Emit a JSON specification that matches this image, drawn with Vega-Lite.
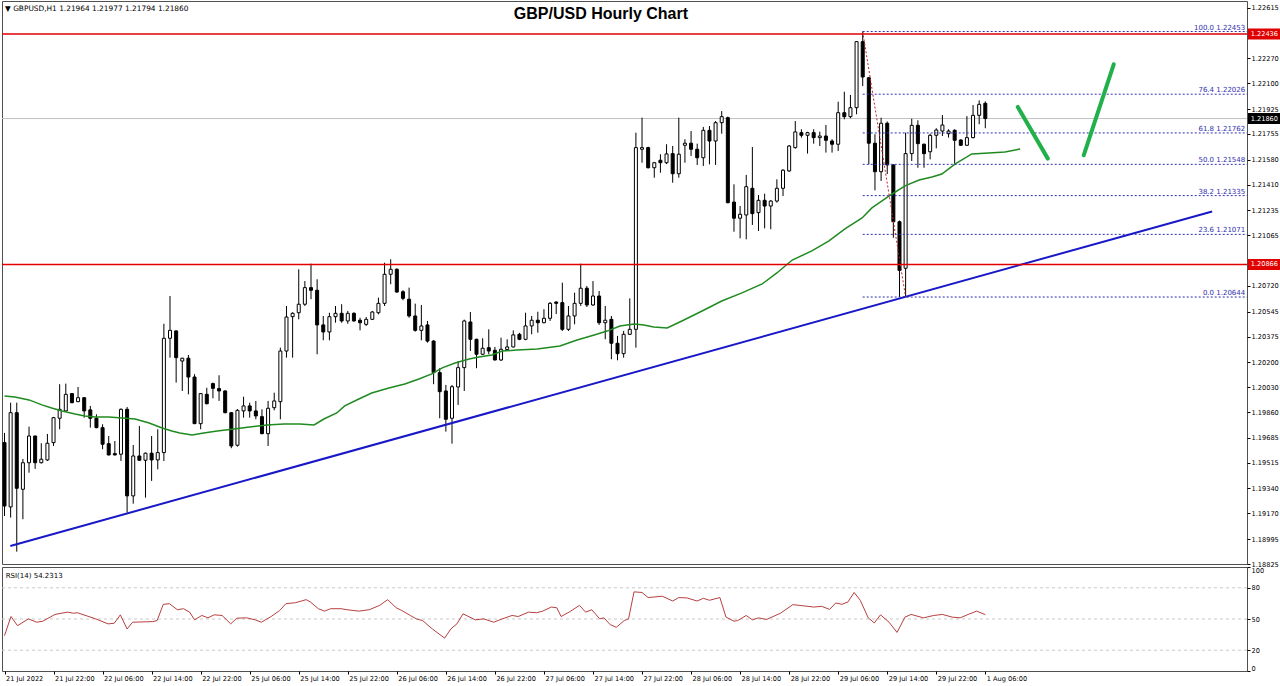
{
"$schema": "https://vega.github.io/schema/vega-lite/v6.json",
"padding": 0,
"spacing": 3,
"bounds": "flush",
"background": "white",
"config": {"view": {"stroke": "#505050", "strokeWidth": 1}, "axis": {"labelFont": "DejaVu Sans", "labelColor": "black", "tickColor": "black", "labelFontSize": 6.6, "labelOverlap": false, "labelSeparation": 0}, "scale": {"continuousPadding": 0}},
"datasets": {
"candles": [
{"b":0,"o":1.19652,"h":1.19718,"l":1.19152,"c":1.19220},
{"b":1,"o":1.19214,"h":1.19924,"l":1.19141,"c":1.19856},
{"b":2,"o":1.19856,"h":1.19924,"l":1.18909,"c":1.19341},
{"b":3,"o":1.19334,"h":1.19541,"l":1.19130,"c":1.19515},
{"b":4,"o":1.19515,"h":1.19761,"l":1.19447,"c":1.19697},
{"b":5,"o":1.19697,"h":1.19700,"l":1.19473,"c":1.19515},
{"b":6,"o":1.19515,"h":1.19648,"l":1.19510,"c":1.19539},
{"b":7,"o":1.19534,"h":1.19711,"l":1.19527,"c":1.19648},
{"b":8,"o":1.19652,"h":1.19827,"l":1.19629,"c":1.19822},
{"b":9,"o":1.19818,"h":1.20050,"l":1.19743,"c":1.19879},
{"b":10,"o":1.19868,"h":1.20054,"l":1.19865,"c":1.19981},
{"b":11,"o":1.19986,"h":1.19990,"l":1.19920,"c":1.19924},
{"b":12,"o":1.19931,"h":1.20031,"l":1.19928,"c":1.19958},
{"b":13,"o":1.19958,"h":1.19962,"l":1.19822,"c":1.19868},
{"b":14,"o":1.19875,"h":1.19902,"l":1.19754,"c":1.19818},
{"b":15,"o":1.19818,"h":1.19845,"l":1.19750,"c":1.19754},
{"b":16,"o":1.19754,"h":1.19777,"l":1.19607,"c":1.19641},
{"b":17,"o":1.19645,"h":1.19697,"l":1.19565,"c":1.19568},
{"b":18,"o":1.19577,"h":1.19663,"l":1.19565,"c":1.19568},
{"b":19,"o":1.19573,"h":1.19885,"l":1.19527,"c":1.19879},
{"b":20,"o":1.19879,"h":1.19895,"l":1.19175,"c":1.19289},
{"b":21,"o":1.19289,"h":1.19636,"l":1.19236,"c":1.19561},
{"b":22,"o":1.19561,"h":1.19766,"l":1.19528,"c":1.19532},
{"b":23,"o":1.19532,"h":1.19584,"l":1.19277,"c":1.19580},
{"b":24,"o":1.19580,"h":1.19697,"l":1.19391,"c":1.19534},
{"b":25,"o":1.19534,"h":1.19743,"l":1.19470,"c":1.19584},
{"b":26,"o":1.19584,"h":1.20462,"l":1.19527,"c":1.20363},
{"b":27,"o":1.20363,"h":1.20651,"l":1.20231,"c":1.20417},
{"b":28,"o":1.20413,"h":1.20417,"l":1.20061,"c":1.20231},
{"b":29,"o":1.20208,"h":1.20230,"l":1.20004,"c":1.20227},
{"b":30,"o":1.20227,"h":1.20249,"l":1.19981,"c":1.20099},
{"b":31,"o":1.20099,"h":1.20118,"l":1.19779,"c":1.19781},
{"b":32,"o":1.19781,"h":1.19990,"l":1.19743,"c":1.19986},
{"b":33,"o":1.19981,"h":1.20026,"l":1.19913,"c":1.19917},
{"b":34,"o":1.20054,"h":1.20061,"l":1.19954,"c":1.20022},
{"b":35,"o":1.20020,"h":1.20111,"l":1.19936,"c":1.20004},
{"b":36,"o":1.20004,"h":1.20008,"l":1.19852,"c":1.19856},
{"b":37,"o":1.19856,"h":1.19860,"l":1.19614,"c":1.19629},
{"b":38,"o":1.19634,"h":1.19880,"l":1.19625,"c":1.19872},
{"b":39,"o":1.19868,"h":1.19965,"l":1.19822,"c":1.19902},
{"b":40,"o":1.19902,"h":1.19924,"l":1.19822,"c":1.19868},
{"b":41,"o":1.19868,"h":1.19936,"l":1.19811,"c":1.19834},
{"b":42,"o":1.19829,"h":1.19879,"l":1.19709,"c":1.19713},
{"b":43,"o":1.19713,"h":1.19936,"l":1.19629,"c":1.19886},
{"b":44,"o":1.19890,"h":1.19992,"l":1.19872,"c":1.19936},
{"b":45,"o":1.19931,"h":1.20299,"l":1.19811,"c":1.20276},
{"b":46,"o":1.20276,"h":1.20583,"l":1.20231,"c":1.20508},
{"b":47,"o":1.20510,"h":1.20540,"l":1.20231,"c":1.20533},
{"b":48,"o":1.20537,"h":1.20833,"l":1.20492,"c":1.20595},
{"b":49,"o":1.20595,"h":1.20753,"l":1.20583,"c":1.20708},
{"b":50,"o":1.20708,"h":1.20871,"l":1.20629,"c":1.20690},
{"b":51,"o":1.20690,"h":1.20765,"l":1.20254,"c":1.20454},
{"b":52,"o":1.20454,"h":1.20515,"l":1.20349,"c":1.20406},
{"b":53,"o":1.20406,"h":1.20537,"l":1.20349,"c":1.20510},
{"b":54,"o":1.20510,"h":1.20583,"l":1.20469,"c":1.20533},
{"b":55,"o":1.20533,"h":1.20595,"l":1.20469,"c":1.20481},
{"b":56,"o":1.20481,"h":1.20549,"l":1.20462,"c":1.20533},
{"b":57,"o":1.20533,"h":1.20540,"l":1.20476,"c":1.20481},
{"b":58,"o":1.20486,"h":1.20503,"l":1.20417,"c":1.20469},
{"b":59,"o":1.20458,"h":1.20508,"l":1.20447,"c":1.20492},
{"b":60,"o":1.20492,"h":1.20549,"l":1.20488,"c":1.20542},
{"b":61,"o":1.20537,"h":1.20640,"l":1.20526,"c":1.20601},
{"b":62,"o":1.20601,"h":1.20878,"l":1.20583,"c":1.20799},
{"b":63,"o":1.20799,"h":1.20901,"l":1.20731,"c":1.20833},
{"b":64,"o":1.20833,"h":1.20840,"l":1.20674,"c":1.20678},
{"b":65,"o":1.20680,"h":1.20690,"l":1.20622,"c":1.20635},
{"b":66,"o":1.20629,"h":1.20708,"l":1.20503,"c":1.20515},
{"b":67,"o":1.20515,"h":1.20599,"l":1.20408,"c":1.20417},
{"b":68,"o":1.20417,"h":1.20590,"l":1.20349,"c":1.20447},
{"b":69,"o":1.20454,"h":1.20481,"l":1.20333,"c":1.20344},
{"b":70,"o":1.20344,"h":1.20350,"l":1.20050,"c":1.20129},
{"b":71,"o":1.20129,"h":1.20159,"l":1.19818,"c":1.19999},
{"b":72,"o":1.20004,"h":1.20045,"l":1.19727,"c":1.19811},
{"b":73,"o":1.19818,"h":1.20045,"l":1.19645,"c":1.20033},
{"b":74,"o":1.20031,"h":1.20208,"l":1.19909,"c":1.20163},
{"b":75,"o":1.20163,"h":1.20490,"l":1.20004,"c":1.20481},
{"b":76,"o":1.20474,"h":1.20542,"l":1.20276,"c":1.20356},
{"b":77,"o":1.20356,"h":1.20360,"l":1.20159,"c":1.20254},
{"b":78,"o":1.20254,"h":1.20363,"l":1.20250,"c":1.20295},
{"b":79,"o":1.20299,"h":1.20424,"l":1.20254,"c":1.20276},
{"b":80,"o":1.20281,"h":1.20304,"l":1.20212,"c":1.20215},
{"b":81,"o":1.20215,"h":1.20367,"l":1.20208,"c":1.20288},
{"b":82,"o":1.20286,"h":1.20356,"l":1.20280,"c":1.20304},
{"b":83,"o":1.20304,"h":1.20417,"l":1.20300,"c":1.20386},
{"b":84,"o":1.20390,"h":1.20400,"l":1.20350,"c":1.20356},
{"b":85,"o":1.20356,"h":1.20537,"l":1.20350,"c":1.20447},
{"b":86,"o":1.20447,"h":1.20515,"l":1.20390,"c":1.20486},
{"b":87,"o":1.20486,"h":1.20544,"l":1.20401,"c":1.20469},
{"b":88,"o":1.20469,"h":1.20561,"l":1.20465,"c":1.20499},
{"b":89,"o":1.20499,"h":1.20610,"l":1.20481,"c":1.20601},
{"b":90,"o":1.20610,"h":1.20615,"l":1.20528,"c":1.20601},
{"b":91,"o":1.20606,"h":1.20742,"l":1.20413,"c":1.20424},
{"b":92,"o":1.20424,"h":1.20583,"l":1.20413,"c":1.20515},
{"b":93,"o":1.20515,"h":1.20674,"l":1.20458,"c":1.20601},
{"b":94,"o":1.20601,"h":1.20871,"l":1.20583,"c":1.20704},
{"b":95,"o":1.20704,"h":1.20719,"l":1.20576,"c":1.20590},
{"b":96,"o":1.20590,"h":1.20753,"l":1.20583,"c":1.20651},
{"b":97,"o":1.20651,"h":1.20685,"l":1.20454,"c":1.20469},
{"b":98,"o":1.20469,"h":1.20583,"l":1.20356,"c":1.20486},
{"b":99,"o":1.20492,"h":1.20515,"l":1.20220,"c":1.20329},
{"b":100,"o":1.20329,"h":1.20379,"l":1.20213,"c":1.20258},
{"b":101,"o":1.20258,"h":1.20413,"l":1.20231,"c":1.20390},
{"b":102,"o":1.20390,"h":1.20635,"l":1.20385,"c":1.20424},
{"b":103,"o":1.20424,"h":1.21764,"l":1.20299,"c":1.21662},
{"b":104,"o":1.21651,"h":1.21866,"l":1.21559,"c":1.21662},
{"b":105,"o":1.21662,"h":1.21668,"l":1.21520,"c":1.21525},
{"b":106,"o":1.21525,"h":1.21565,"l":1.21457,"c":1.21559},
{"b":107,"o":1.21576,"h":1.21617,"l":1.21491,"c":1.21559},
{"b":108,"o":1.21559,"h":1.21685,"l":1.21550,"c":1.21619},
{"b":109,"o":1.21621,"h":1.21673,"l":1.21423,"c":1.21484},
{"b":110,"o":1.21484,"h":1.21866,"l":1.21457,"c":1.21617},
{"b":111,"o":1.21678,"h":1.21719,"l":1.21559,"c":1.21692},
{"b":112,"o":1.21692,"h":1.21775,"l":1.21605,"c":1.21651},
{"b":113,"o":1.21651,"h":1.21689,"l":1.21544,"c":1.21593},
{"b":114,"o":1.21593,"h":1.21803,"l":1.21537,"c":1.21780},
{"b":115,"o":1.21780,"h":1.21809,"l":1.21548,"c":1.21707},
{"b":116,"o":1.21707,"h":1.21843,"l":1.21544,"c":1.21832},
{"b":117,"o":1.21832,"h":1.21911,"l":1.21757,"c":1.21873},
{"b":118,"o":1.21866,"h":1.21873,"l":1.21282,"c":1.21287},
{"b":119,"o":1.21291,"h":1.21412,"l":1.21089,"c":1.21181},
{"b":120,"o":1.21181,"h":1.21264,"l":1.21044,"c":1.21208},
{"b":121,"o":1.21203,"h":1.21476,"l":1.21037,"c":1.21396},
{"b":122,"o":1.21385,"h":1.21666,"l":1.21135,"c":1.21212},
{"b":123,"o":1.21219,"h":1.21339,"l":1.21094,"c":1.21303},
{"b":124,"o":1.21303,"h":1.21348,"l":1.21112,"c":1.21264},
{"b":125,"o":1.21264,"h":1.21305,"l":1.21106,"c":1.21298},
{"b":126,"o":1.21298,"h":1.21446,"l":1.21287,"c":1.21385},
{"b":127,"o":1.21385,"h":1.21515,"l":1.21332,"c":1.21508},
{"b":128,"o":1.21503,"h":1.21680,"l":1.21497,"c":1.21673},
{"b":129,"o":1.21662,"h":1.21843,"l":1.21655,"c":1.21769},
{"b":130,"o":1.21764,"h":1.21787,"l":1.21730,"c":1.21746},
{"b":131,"o":1.21746,"h":1.21770,"l":1.21621,"c":1.21764},
{"b":132,"o":1.21764,"h":1.21787,"l":1.21689,"c":1.21730},
{"b":133,"o":1.21730,"h":1.21771,"l":1.21673,"c":1.21741},
{"b":134,"o":1.21741,"h":1.21816,"l":1.21628,"c":1.21712},
{"b":135,"o":1.21707,"h":1.21719,"l":1.21628,"c":1.21685},
{"b":136,"o":1.21685,"h":1.21975,"l":1.21639,"c":1.21900},
{"b":137,"o":1.21900,"h":1.22043,"l":1.21855,"c":1.21873},
{"b":138,"o":1.21873,"h":1.22021,"l":1.21862,"c":1.21934},
{"b":139,"o":1.21934,"h":1.22388,"l":1.21889,"c":1.22384},
{"b":140,"o":1.22384,"h":1.22453,"l":1.22082,"c":1.22143},
{"b":141,"o":1.22138,"h":1.22143,"l":1.21548,"c":1.21692},
{"b":142,"o":1.21692,"h":1.21753,"l":1.21371,"c":1.21498},
{"b":143,"o":1.21498,"h":1.21866,"l":1.21435,"c":1.21828},
{"b":144,"o":1.21828,"h":1.21840,"l":1.21482,"c":1.21544},
{"b":145,"o":1.21544,"h":1.21548,"l":1.21048,"c":1.21157},
{"b":146,"o":1.21157,"h":1.21165,"l":1.20644,"c":1.20826},
{"b":147,"o":1.20840,"h":1.21764,"l":1.20644,"c":1.21621},
{"b":148,"o":1.21621,"h":1.21859,"l":1.21571,"c":1.21814},
{"b":149,"o":1.21814,"h":1.21848,"l":1.21525,"c":1.21689},
{"b":150,"o":1.21685,"h":1.21690,"l":1.21525,"c":1.21621},
{"b":151,"o":1.21634,"h":1.21757,"l":1.21582,"c":1.21746},
{"b":152,"o":1.21746,"h":1.21794,"l":1.21657,"c":1.21782},
{"b":153,"o":1.21775,"h":1.21884,"l":1.21741,"c":1.21816},
{"b":154,"o":1.21757,"h":1.21787,"l":1.21730,"c":1.21775},
{"b":155,"o":1.21780,"h":1.21787,"l":1.21553,"c":1.21712},
{"b":156,"o":1.21714,"h":1.21719,"l":1.21673,"c":1.21678},
{"b":157,"o":1.21678,"h":1.21877,"l":1.21673,"c":1.21730},
{"b":158,"o":1.21730,"h":1.21952,"l":1.21725,"c":1.21882},
{"b":159,"o":1.21882,"h":1.21984,"l":1.21821,"c":1.21957},
{"b":160,"o":1.21964,"h":1.21977,"l":1.21794,"c":1.21860}
],
"ma": [
{"b":0,"p":1.19970},{"b":1.7,"p":1.19963},{"b":4.0,"p":1.19943},{"b":6.1,"p":1.19909},{"b":7.7,"p":1.19888},{"b":9.4,"p":1.19868},{"b":11.5,"p":1.19847},{"b":13.1,"p":1.19834},{"b":14.8,"p":1.19827},{"b":17.0,"p":1.19827},{"b":19.2,"p":1.19820},{"b":21.3,"p":1.19813},{"b":23.6,"p":1.19786},{"b":25.7,"p":1.19752},{"b":27.3,"p":1.19731},{"b":28.6,"p":1.19718},{"b":30.6,"p":1.19704},{"b":32.5,"p":1.19718},{"b":34.7,"p":1.19731},{"b":37.4,"p":1.19745},{"b":40.0,"p":1.19759},{"b":42.8,"p":1.19772},{"b":45.6,"p":1.19779},{"b":48.2,"p":1.19779},{"b":50.5,"p":1.19772},{"b":52.1,"p":1.19813},{"b":54.2,"p":1.19854},{"b":55.5,"p":1.19902},{"b":57.8,"p":1.19949},{"b":59.9,"p":1.19990},{"b":62.7,"p":1.20024},{"b":65.3,"p":1.20052},{"b":67.6,"p":1.20086},{"b":69.7,"p":1.20120},{"b":71.4,"p":1.20161},{"b":73.5,"p":1.20195},{"b":75.8,"p":1.20222},{"b":77.4,"p":1.20236},{"b":79.5,"p":1.20249},{"b":81.2,"p":1.20276},{"b":83.6,"p":1.20283},{"b":86.9,"p":1.20290},{"b":90.6,"p":1.20311},{"b":93.4,"p":1.20351},{"b":96.2,"p":1.20385},{"b":98.3,"p":1.20412},{"b":100.4,"p":1.20447},{"b":102.7,"p":1.20460},{"b":104.3,"p":1.20454},{"b":105.9,"p":1.20440},{"b":108.1,"p":1.20433},{"b":110.5,"p":1.20481},{"b":113.8,"p":1.20549},{"b":117.0,"p":1.20617},{"b":120.3,"p":1.20672},{"b":123.6,"p":1.20733},{"b":126.0,"p":1.20808},{"b":128.5,"p":1.20896},{"b":131.7,"p":1.20958},{"b":134.5,"p":1.21026},{"b":137.1,"p":1.21108},{"b":139.9,"p":1.21183},{"b":141.5,"p":1.21251},{"b":144.8,"p":1.21346},{"b":146.9,"p":1.21401},{"b":149.2,"p":1.21441},{"b":151.3,"p":1.21462},{"b":152.9,"p":1.21482},{"b":155.1,"p":1.21551},{"b":157.8,"p":1.21619},{"b":160.6,"p":1.21625},{"b":163.2,"p":1.21632},{"b":165.7,"p":1.21653}
],
"rsi": [
{"b":0,"v":34},{"b":1.06,"v":52.4},{"b":2.12,"v":43.6},{"b":3.92,"v":50.1},{"b":5.25,"v":46.9},{"b":6.25,"v":47.9},{"b":8.24,"v":54.4},{"b":10.24,"v":56.6},{"b":11.24,"v":55.6},{"b":11.9,"v":56},{"b":14.9,"v":50.1},{"b":16.9,"v":45.3},{"b":17.9,"v":45.9},{"b":18.9,"v":54},{"b":20,"v":40.4},{"b":20.9,"v":46.9},{"b":24.2,"v":47.5},{"b":24.9,"v":48.5},{"b":25.9,"v":64.1},{"b":26.9,"v":64.7},{"b":28.2,"v":58.9},{"b":29.2,"v":59.9},{"b":30.2,"v":56.6},{"b":31,"v":49.2},{"b":32.2,"v":53.4},{"b":33.2,"v":51.1},{"b":34.2,"v":54},{"b":35.5,"v":53.4},{"b":36.9,"v":45.3},{"b":37.9,"v":50.8},{"b":39.5,"v":51.1},{"b":40.9,"v":49.2},{"b":41.9,"v":46.9},{"b":43.5,"v":52.4},{"b":44.9,"v":58.2},{"b":45.9,"v":64.7},{"b":47.5,"v":65.7},{"b":49.2,"v":68.6},{"b":49.9,"v":66.4},{"b":51.2,"v":59.9},{"b":52.2,"v":57.6},{"b":53.2,"v":59.9},{"b":54.9,"v":59.9},{"b":55.9,"v":58.9},{"b":57.8,"v":57.6},{"b":59.5,"v":58.9},{"b":61.2,"v":63.1},{"b":62.5,"v":68.6},{"b":63.9,"v":60.8},{"b":64.8,"v":58.2},{"b":66.2,"v":53.4},{"b":67.2,"v":50.1},{"b":68.2,"v":48.5},{"b":69.8,"v":40.4},{"b":71.8,"v":31.6},{"b":72.8,"v":40.4},{"b":73.8,"v":45.3},{"b":74.8,"v":55},{"b":76.8,"v":49.2},{"b":78.2,"v":50.1},{"b":79.8,"v":46.9},{"b":81.2,"v":50.1},{"b":82.8,"v":53.4},{"b":83.8,"v":52.4},{"b":85.5,"v":56.6},{"b":86.8,"v":56},{"b":87.8,"v":57.6},{"b":89.2,"v":61.5},{"b":90.1,"v":60.8},{"b":90.8,"v":52.4},{"b":92.1,"v":56.6},{"b":93.8,"v":63.1},{"b":94.8,"v":56.6},{"b":95.8,"v":58.9},{"b":97.1,"v":50.1},{"b":97.8,"v":51.1},{"b":98.8,"v":44.6},{"b":99.8,"v":42},{"b":101.1,"v":48.5},{"b":101.8,"v":50.1},{"b":102.7,"v":76.1},{"b":104,"v":75.5},{"b":105,"v":70.6},{"b":107.3,"v":71.9},{"b":109,"v":67.3},{"b":110,"v":70.6},{"b":111.3,"v":70.3},{"b":113,"v":67.3},{"b":114,"v":69.9},{"b":115,"v":68},{"b":116.7,"v":70.6},{"b":117.7,"v":51.8},{"b":119,"v":47.9},{"b":119.6,"v":48.5},{"b":121,"v":53.4},{"b":122,"v":49.2},{"b":123,"v":51.1},{"b":124.3,"v":49.5},{"b":126.6,"v":55.6},{"b":128.6,"v":63.8},{"b":130.6,"v":62.5},{"b":132,"v":61.5},{"b":133.3,"v":62.2},{"b":134.6,"v":59.2},{"b":135.6,"v":65.4},{"b":136.6,"v":64.1},{"b":137.6,"v":66.4},{"b":138.6,"v":75.5},{"b":139.6,"v":68},{"b":140.9,"v":51.1},{"b":141.9,"v":46.2},{"b":142.9,"v":54},{"b":144.3,"v":46.9},{"b":145.6,"v":37.1},{"b":146.9,"v":51.8},{"b":147.9,"v":54.4},{"b":149.9,"v":51.1},{"b":151.6,"v":53.4},{"b":153,"v":54.4},{"b":154.6,"v":51.8},{"b":155.9,"v":51.1},{"b":157.2,"v":54.4},{"b":158.6,"v":57.6},{"b":160,"v":54.2}
],
"fib": [
{"label":"100.0 1.22453","p":1.22453},{"label":"76.4 1.22026","p":1.22026},{"label":"61.8 1.21762","p":1.21762},{"label":"50.0 1.21548","p":1.21548},{"label":"38.2 1.21335","p":1.21335},{"label":"23.6 1.21071","p":1.21071},{"label":"0.0 1.20644","p":1.20644}
]
},
"vconcat": [
{
"width": 1245,
"height": 563,
"layer": [
{"data": {"values": [{"p": 1.2186}]}, "mark": {"type": "rule", "color": "#c0c0c0", "strokeWidth": 1},
 "encoding": {"y": {"field": "p", "type": "quantitative", "scale": {"domain": [1.18825, 1.22661], "nice": false, "zero": false, "padding": 0},
  "axis": {"orient": "right", "values": [1.22615,1.2227,1.221,1.21925,1.21755,1.2158,1.2141,1.21235,1.21065,1.2072,1.20545,1.20375,1.202,1.2003,1.1986,1.19685,1.19515,1.1934,1.1917,1.18995,1.18825], "tickCount": 100, "format": ".5f", "tickSize": 3, "labelPadding": 1, "domain": false, "grid": false, "title": null, "labelFlush": false, "labelOverlap": false, "labelBound": false}}}},
{"data": {"name": "candles"}, "mark": {"type": "rule", "color": "black", "strokeWidth": 1},
 "encoding": {"x": {"field": "b", "type": "quantitative", "scale": {"domain": [-0.408, 202.69], "nice": false, "zero": false, "padding": 0}, "axis": null},
  "y": {"field": "l", "type": "quantitative"}, "y2": {"field": "h"}}},
{"data": {"name": "candles"}, "mark": {"type": "bar", "size": 3, "stroke": "black", "strokeWidth": 1},
 "encoding": {"x": {"field": "b", "type": "quantitative", "axis": null},
  "y": {"field": "o", "type": "quantitative"}, "y2": {"field": "c"},
  "fill": {"condition": {"test": "datum.c >= datum.o", "value": "white"}, "value": "black"}}},
{"data": {"name": "ma"}, "mark": {"type": "line", "color": "#208a20", "strokeWidth": 1.5},
 "encoding": {"x": {"field": "b", "type": "quantitative", "axis": null}, "y": {"field": "p", "type": "quantitative"}}},
{"data": {"name": "fib"}, "mark": {"type": "rule", "color": "#3030b0", "strokeDash": [2, 2], "strokeWidth": 1},
 "encoding": {"x": {"datum": 140, "type": "quantitative", "axis": null}, "x2": {"datum": 202.69}, "y": {"field": "p", "type": "quantitative"}}},
{"data": {"name": "fib"}, "mark": {"type": "text", "color": "#3030b0", "align": "right", "baseline": "bottom", "dy": -1, "font": "DejaVu Sans", "fontSize": 7},
 "encoding": {"x": {"datum": 202.4, "type": "quantitative", "axis": null}, "y": {"field": "p", "type": "quantitative"}, "text": {"field": "label"}}},
{"data": {"values": [{"b": 0.95, "p": 1.18948}, {"b": 197, "p": 1.21227}]}, "mark": {"type": "line", "color": "#1818c8", "strokeWidth": 2},
 "encoding": {"x": {"field": "b", "type": "quantitative", "axis": null}, "y": {"field": "p", "type": "quantitative"}}},
{"data": {"values": [{"p": 1.22436}, {"p": 1.20866}]}, "mark": {"type": "rule", "color": "#e00000", "strokeWidth": 1.5},
 "encoding": {"y": {"field": "p", "type": "quantitative"}}},
{"data": {"values": [{"b": 140, "p": 1.22453}, {"b": 147, "p": 1.20644}]}, "mark": {"type": "line", "color": "#c02020", "strokeWidth": 1, "strokeDash": [2, 2]},
 "encoding": {"x": {"field": "b", "type": "quantitative", "axis": null}, "y": {"field": "p", "type": "quantitative"}}},
{"data": {"values": [{"g": "a", "b": 165.3, "p": 1.21939}, {"g": "a", "b": 170.2, "p": 1.21587}, {"g": "b", "b": 176.05, "p": 1.2161}, {"g": "b", "b": 180.95, "p": 1.2223}]},
 "mark": {"type": "line", "color": "#22b04a", "strokeWidth": 4, "strokeCap": "round"},
 "encoding": {"x": {"field": "b", "type": "quantitative", "axis": null}, "y": {"field": "p", "type": "quantitative"}, "detail": {"field": "g"}}},
{"data": {"values": [{"p": 1.22436}, {"p": 1.20866}]}, "mark": {"type": "bar", "orient": "horizontal", "color": "#e00000", "size": 11},
 "encoding": {"x": {"datum": 202.85, "type": "quantitative", "axis": null}, "x2": {"datum": 208.3}, "y": {"field": "p", "type": "quantitative"}}},
{"data": {"values": [{"p": 1.2186}]}, "mark": {"type": "bar", "orient": "horizontal", "color": "black", "size": 11},
 "encoding": {"x": {"datum": 202.85, "type": "quantitative", "axis": null}, "x2": {"datum": 208.3}, "y": {"field": "p", "type": "quantitative"}}},
{"data": {"values": [{"p": 1.22436}, {"p": 1.20866}, {"p": 1.2186}]}, "mark": {"type": "text", "color": "white", "align": "left", "baseline": "middle", "font": "DejaVu Sans", "fontSize": 6.6},
 "encoding": {"x": {"datum": 203.3, "type": "quantitative", "axis": null}, "y": {"field": "p", "type": "quantitative"}, "text": {"field": "p", "type": "quantitative", "format": ".5f"}}},
{"data": {"values": [{}]}, "mark": {"type": "text", "text": "GBP/USD Hourly Chart", "font": "Liberation Sans", "fontSize": 16, "fontWeight": "bold", "color": "black", "align": "center", "baseline": "middle"},
 "encoding": {"x": {"datum": 97.3, "type": "quantitative", "axis": null}, "y": {"datum": 1.22572, "type": "quantitative"}}},
{"data": {"values": [{}]}, "mark": {"type": "text", "text": "▼ GBPUSD,H1  1.21964 1.21977 1.21794 1.21860", "font": "DejaVu Sans", "fontSize": 7.4, "color": "black", "align": "left", "baseline": "middle"},
 "encoding": {"x": {"datum": 0.1, "type": "quantitative", "axis": null}, "y": {"datum": 1.22606, "type": "quantitative"}}}
]
},
{
"width": 1245,
"height": 104,
"layer": [
{"data": {"values": [{"v": 20}, {"v": 50}, {"v": 80}]}, "mark": {"type": "rule", "color": "#c8c8c8", "strokeDash": [3, 3], "strokeWidth": 1},
 "encoding": {"y": {"field": "v", "type": "quantitative", "scale": {"domain": [0, 100], "nice": false, "zero": false, "padding": 0},
  "axis": {"orient": "right", "values": [0, 20, 50, 80, 100], "tickCount": 100, "tickSize": 3, "labelPadding": 1, "domain": false, "grid": false, "title": null, "labelFlush": true, "labelOverlap": false}}}},
{"data": {"name": "rsi"}, "mark": {"type": "line", "color": "#b84040", "strokeWidth": 1},
 "encoding": {"x": {"field": "b", "type": "quantitative", "scale": {"domain": [-0.408, 202.69], "nice": false, "zero": false, "padding": 0},
  "axis": {"values": [0,8,16,24,32,40,48,56,64,72,80,88,96,104,112,120,128,136,144,152,160], "tickCount": 100, "labelExpr": "['21 Jul 2022','21 Jul 22:00','22 Jul 06:00','22 Jul 14:00','22 Jul 22:00','25 Jul 06:00','25 Jul 14:00','25 Jul 22:00','26 Jul 06:00','26 Jul 14:00','26 Jul 22:00','27 Jul 06:00','27 Jul 14:00','27 Jul 22:00','28 Jul 06:00','28 Jul 14:00','28 Jul 22:00','29 Jul 06:00','29 Jul 14:00','29 Jul 22:00','1 Aug 06:00'][round(datum.value/8)]", "labelAlign": "left", "labelOffset": 1, "tickSize": 3, "labelPadding": 1, "domain": false, "grid": false, "title": null, "labelFlush": false, "labelOverlap": false, "labelBound": false}},
  "y": {"field": "v", "type": "quantitative"}}},
{"data": {"values": [{}]}, "mark": {"type": "text", "text": "RSI(14) 54.2313", "font": "DejaVu Sans", "fontSize": 7, "color": "black", "align": "left", "baseline": "middle"},
 "encoding": {"x": {"datum": 0.2, "type": "quantitative"}, "y": {"datum": 91, "type": "quantitative"}}}
]
}
]
}
